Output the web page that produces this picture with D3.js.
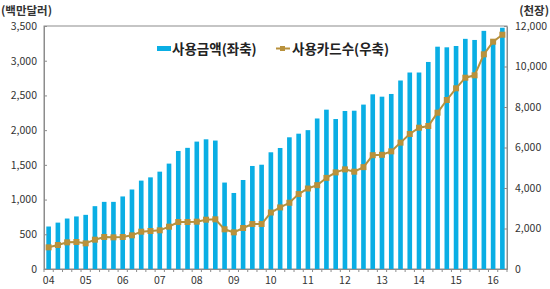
<!DOCTYPE html>
<html>
<head>
<meta charset="utf-8">
<script src="https://cdn.jsdelivr.net/npm/d3@7"></script>
<style>
  body { margin: 0; background: #fff; }
  text { font-family: "Noto Sans CJK KR", "Noto Sans", sans-serif; }
</style>
</head>
<body>
<div id="chart-area"></div>
<script>
const years = ["04", "05", "06", "07", "08", "09", "10", "11", "12", "13", "14", "15", "16"];
// quarters 2004Q1 .. 2016Q2
const quarters = [];
years.forEach(y => [1, 2, 3, 4].forEach(q => quarters.push(y + "Q" + q)));
quarters.splice(50);

// 사용금액 (백만달러, left axis)
const amount = [
    612, 668, 727, 757,
    780, 905, 967, 967,
    1045, 1145, 1273, 1320,
    1402, 1518, 1700, 1745,
    1835, 1868, 1850, 1245,
    1095, 1282, 1484, 1502,
    1681, 1743, 1897, 1949,
    2000, 2168, 2295, 2160,
    2276, 2280, 2368, 2516,
    2482, 2521, 2715, 2830,
    2830, 2982, 3202, 3193,
    3212, 3315, 3299, 3430,
    3300, 3475
];

// 사용카드수 (천장, right axis)
const cards = [
    1070, 1185, 1317, 1333,
    1267, 1448, 1580, 1564,
    1580, 1663, 1843, 1877,
    1910, 2090, 2320, 2320,
    2337, 2436, 2453, 1960,
    1810, 2025, 2222, 2222,
    2790, 3040, 3270, 3700,
    3975, 4140, 4500, 4770,
    4920, 4806, 5030, 5620,
    5640, 5810, 6240, 6667,
    6978, 7062, 7719, 8346,
    8923, 9447, 9565, 10602,
    11225, 11570
];

const leftTicks = [0, 500, 1000, 1500, 2000, 2500, 3000, 3500];
const rightTicks = [0, 2000, 4000, 6000, 8000, 10000, 12000];
const legendLabels = ["사용금액(좌축)", "사용카드수(우축)"];

const width = 550;
const height = 289;
const margin = { left: 44, right: 43, top: 26, bottom: 20 };
const chartWidth = width - margin.left - margin.right;
const chartHeight = height - margin.top - margin.bottom;

const barColor = "#0AAEE4";
const lineColor = "#B8913C";

const svg = d3.select('#chart-area')
    .append('svg')
    .attr("width", width)
    .attr("height", height);

const g = svg.append('g')
    .attr("transform", "translate(" + margin.left + ", " + margin.top + ")");

const x = d3.scaleBand()
    .domain(quarters)
    .range([0, chartWidth])
    .paddingInner(0.5)
    .paddingOuter(0.25);

const yL = d3.scaleLinear().domain([0, 3500]).range([chartHeight, 0]);
const yR = d3.scaleLinear().domain([0, 12000]).range([chartHeight, 0]);

// frame
g.append('rect')
    .attr('x', 0).attr('y', 0)
    .attr('width', chartWidth).attr('height', chartHeight)
    .attr('fill', 'none')
    .attr('stroke', '#8c8c8c')
    .attr('stroke-width', 1);

g.selectAll('rect.bar')
    .data(amount)
    .enter()
    .append('rect')
    .attr('class', 'bar')
    .attr('x', (d, i) => x(quarters[i]))
    .attr('y', d => yL(d))
    .attr('width', x.bandwidth())
    .attr('height', d => chartHeight - yL(d))
    .attr('fill', barColor);

// axes
const fmt = d3.format(",");
const axisL = g.append('g')
    .call(d3.axisLeft(yL).tickValues(leftTicks).tickFormat(fmt).tickSizeInner(-3).tickSizeOuter(0).tickPadding(7));
const axisR = g.append('g')
    .attr('transform', `translate(${chartWidth}, 0)`)
    .call(d3.axisRight(yR).tickValues(rightTicks).tickFormat(fmt).tickSizeInner(-3).tickSizeOuter(0).tickPadding(8));

const xAxis = d3.axisBottom(x)
    .tickValues(quarters.filter(q => q.endsWith("Q1")))
    .tickFormat(q => q.slice(0, 2))
    .tickSize(0)
    .tickPadding(8);
const axisB = g.append('g')
    .attr('transform', `translate(0, ${chartHeight})`)
    .call(xAxis);

[axisL, axisR, axisB].forEach(a => {
    a.select('.domain').attr('stroke', '#8c8c8c');
    a.selectAll('.tick line').attr('stroke', '#8c8c8c');
    a.selectAll('text').attr('font-size', 10.5).attr('fill', '#333');
});

// small ticks between quarters
const step = x.step();
g.append('g')
    .selectAll('line')
    .data(d3.range(quarters.length + 1))
    .enter()
    .append('line')
    .attr('x1', i => x(quarters[0]) - step * x.paddingInner() / 2 + i * step)
    .attr('x2', i => x(quarters[0]) - step * x.paddingInner() / 2 + i * step)
    .attr('y1', chartHeight)
    .attr('y2', chartHeight + 3)
    .attr('stroke', '#8c8c8c');

// line series
const line = d3.line()
    .x((d, i) => x(quarters[i]) + x.bandwidth() / 2)
    .y(d => yR(d));

g.append('path')
    .datum(cards)
    .attr('d', line)
    .attr('fill', 'none')
    .attr('stroke', lineColor)
    .attr('stroke-width', 2);

g.selectAll('rect.mark')
    .data(cards)
    .enter()
    .append('rect')
    .attr('class', 'mark')
    .attr('x', (d, i) => x(quarters[i]) + x.bandwidth() / 2 - 3)
    .attr('y', d => yR(d) - 3)
    .attr('width', 6)
    .attr('height', 6)
    .attr('fill', lineColor);

// unit labels
svg.append('text')
    .attr('x', 1).attr('y', 15)
    .attr('font-size', 11.5).attr('font-weight', 'bold').attr('fill', '#333')
    .text("(백만달러)");
svg.append('text')
    .attr('x', 549).attr('y', 15)
    .attr('text-anchor', 'end')
    .attr('font-size', 11.5).attr('font-weight', 'bold').attr('fill', '#333')
    .text("(천장)");

// legend
const leg = svg.append('g');
leg.append('rect')
    .attr('x', 157).attr('y', 46).attr('width', 14).attr('height', 5)
    .attr('fill', barColor);
leg.append('text')
    .attr('x', 172).attr('y', 54)
    .attr('font-size', 13.5).attr('font-weight', 'bold').attr('fill', '#222')
    .text(legendLabels[0]);
leg.append('line')
    .attr('x1', 276).attr('x2', 290).attr('y1', 48.5).attr('y2', 48.5)
    .attr('stroke', lineColor).attr('stroke-width', 2);
leg.append('rect')
    .attr('x', 280).attr('y', 46).attr('width', 5).attr('height', 5)
    .attr('fill', lineColor);
leg.append('text')
    .attr('x', 292).attr('y', 54)
    .attr('font-size', 13.5).attr('font-weight', 'bold').attr('fill', '#222')
    .text(legendLabels[1]);
</script>
</body>
</html>
